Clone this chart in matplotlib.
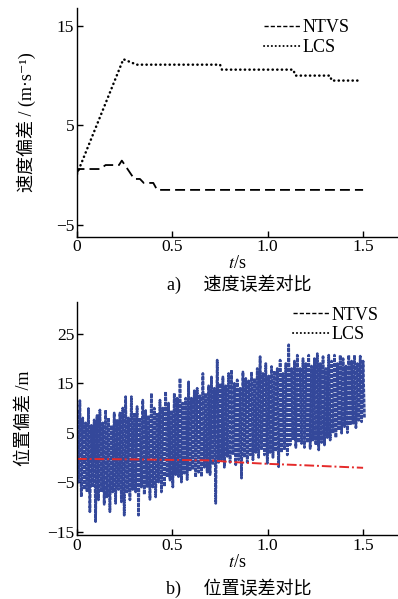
import matplotlib.pyplot as plt
import numpy as np
from matplotlib.lines import Line2D

plt.rcParams['font.family'] = ['Liberation Serif', 'Noto Sans CJK SC', 'DejaVu Sans']
plt.rcParams['mathtext.fontset'] = 'stix'
plt.rcParams['axes.unicode_minus'] = True

# -----------------------------------------------------------------------------
#         Data
# -----------------------------------------------------------------------------
# a) velocity error
ntvs_v_t = [0, 0.01, 0.12, 0.15, 0.22, 0.235, 0.30, 0.33, 0.35, 0.40, 0.42, 1.5]
ntvs_v = [0.2, 0.6, 0.6, 1.0, 1.0, 1.45, -0.4, -0.4, -0.8, -0.8, -1.5, -1.5]

lcs_v_t = [0, 0.243, 0.313, 0.75, 0.76, 1.134, 1.145, 1.327, 1.335, 1.475]
lcs_v = [0.1, 11.65, 11.1, 11.1, 10.6, 10.6, 10.0, 10.0, 9.5, 9.5]

# b) position error
ntvs_p_t = [0, 0.3, 0.5, 0.7, 0.8, 1.0, 1.2, 1.5]
ntvs_p = [-0.3, -0.4, -0.5, -0.6, -0.9, -1.3, -1.6, -2.1]

# LCS position error: upper / lower tips of the oscillation, every 0.015 s
lcs_p_upper = [
    9.5, 11.5, 8, 7, 9.9, 6.5, 7.6, 8.5, 9.6, 7,
    9.6, 8, 6.5, 9, 7.5, 9, 10, 12.3, 8, 12.3,
    9, 10.3, 8, 11.6, 9.5, 8.5, 13, 10, 9, 11.6,
    10, 13.3, 11, 9.5, 13, 12, 16, 11, 12, 15.3,
    12, 13.5, 14, 12.5, 17, 13, 14.5, 16.3, 14, 19.7,
    15, 16.3, 14.5, 17, 17.7, 15, 15.7, 14, 17.3, 16,
    15.5, 17.3, 16, 18, 20.4, 17, 19, 16.5, 18.4, 17.5,
    18, 19.7, 17, 19, 22.8, 18, 19.5, 20.7, 18, 20,
    19, 20.7, 18.5, 20, 21, 19, 20.4, 18, 20.7, 19.5,
    20.7, 19, 20.7, 20, 18.5, 20.7, 19.5, 20.7, 19, 20.5,
    19.5,
]
lcs_p_lower = [
    -5, -8, -6.5, -7, -11, -6, -13, -8.6, -7, -9.5,
    -8, -11, -7, -9.3, -6.5, -9, -11.7, -7, -8.6, -6.5,
    -7, -11.7, -6, -7.5, -5.9, -8.5, -6, -8, -5, -7,
    -5.9, -4, -4.6, -6, -3.5, -3.9, -5, -3.2, -4.5, -2.8,
    -2.5, -4, -3, -3.9, -2, -3, -3.5, -1.5, -9.3, -1,
    -0.5, -2, 0.2, -1, 0.5, -1.5, -0.5, -4.2, 0, -1,
    0.5, -0.5, 1, 0, 1.5, 0.5, -1.2, 1, 0, 1.2,
    -1.9, 1, 1.5, 0.5, 2.5, 3.5, 2, 3, 2.8, 2,
    3, 1.8, 3.5, 2.5, 1.5, 3, 2.5, 4, 3.5, 4.9,
    4, 5.5, 4.9, 6.2, 5, 6.5, 6.9, 6, 7.5, 7.2,
    8,
]
lcs_p_dt = 0.015

# -----------------------------------------------------------------------------
#         Plots
# -----------------------------------------------------------------------------
fig = plt.figure(figsize=(3.98, 5.99), dpi=100)

ax1 = fig.add_axes([0.1935, 0.605, 0.805, 0.3816])
ax2 = fig.add_axes([0.1935, 0.1068, 0.805, 0.3895])

for ax in (ax1, ax2):
    ax.spines['top'].set_visible(False)
    ax.spines['right'].set_visible(False)
    ax.spines['left'].set_linewidth(1.0)
    ax.spines['bottom'].set_linewidth(1.0)
    ax.tick_params(direction='in', length=4, width=1.0, labelsize=12.5, pad=2)
    ax.set_xlim(0, 1.68)
    ax.set_xticks([0, 0.5, 1.0, 1.5])
    ax.set_xticklabels(['0', '0.5', '1.0', '1.5'])
    ax.set_xlabel('$t$/s', fontsize=13, labelpad=0)

leg_kw = dict(loc='upper left', bbox_transform=fig.transFigure, frameon=False,
              fontsize=13, handlelength=2.0, handletextpad=0.1,
              labelspacing=0.15, borderpad=0)
leg_handles = [Line2D([], [], color='k', lw=1.0, ls=(0, (3, 1.5))),
               Line2D([], [], color='k', lw=1.4, ls=(0, (0.1, 1.9)),
                      dash_capstyle='round')]

# a) velocity
ax1.plot(ntvs_v_t, ntvs_v, color='k', lw=1.3, ls=(0, (5.5, 2.8)))
ax1.plot(lcs_v_t, lcs_v, color='k', lw=1.8, ls=(0, (0.1, 1.75)),
         dash_capstyle='round')
ax1.set_ylim(-6.2, 16.8)
ax1.set_yticks([-5, 5, 15])
ax1.set_ylabel('速度偏差 / (m·s⁻¹)', fontsize=13, labelpad=14)
ax1.legend(leg_handles, ['NTVS', 'LCS'], bbox_to_anchor=(0.641, 0.983), **leg_kw)

# b) position
n = len(lcs_p_upper)
t_up = np.arange(n) * lcs_p_dt
t_lo = t_up + lcs_p_dt / 2
zz_t = np.column_stack([t_up, t_lo]).ravel()
zz_v = np.column_stack([lcs_p_upper, lcs_p_lower]).ravel()
ax2.plot(zz_t, zz_v, color='#34489a', lw=1.9, ls=(0, (1.5, 0.4)))
ax2.plot(ntvs_p_t, ntvs_p, color='#e52a2a', lw=1.4, ls=(0, (5, 1.5, 1, 1.5)))
ax2.set_ylim(-15.7, 31.5)
ax2.set_yticks([-15, -5, 5, 15, 25])
ax2.set_ylabel('位置偏差 /m', fontsize=13, labelpad=10)
ax2.legend(leg_handles, ['NTVS', 'LCS'], bbox_to_anchor=(0.714, 0.503), **leg_kw)

fig.text(0.6, 1 - 284 / 599, 'a)\u3000 速度误差对比', ha='center', va='center',
         fontsize=13)
fig.text(0.6, 1 - 588 / 599, 'b)\u3000 位置误差对比', ha='center', va='center',
         fontsize=13)

fig.savefig('out.png', dpi=100)
